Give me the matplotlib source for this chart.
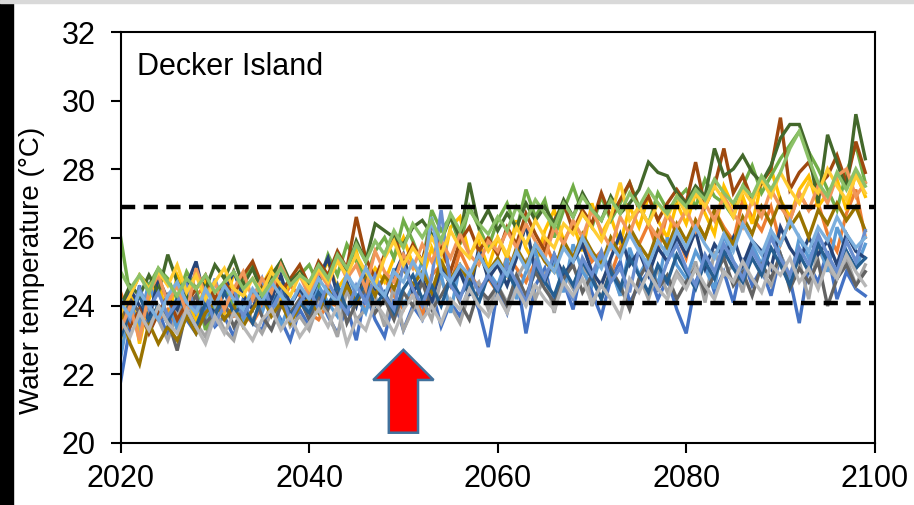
import matplotlib.pyplot as plt
from matplotlib.patches import Rectangle, FancyArrow

plt.rcParams['font.family'] = ['Liberation Sans', 'DejaVu Sans']

years = list(range(2020, 2100))

# yearly water temperature (degC), one list per model run
blue = [21.8, 23.4, 24.6, 23.2, 23.9, 23.1, 24.3, 23.6, 23.2, 24.0, 23.4, 23.7, 23.1, 24.2, 23.5, 23.3, 24.1, 23.6, 23.0, 23.9,
        23.4, 24.3, 23.7, 23.2, 24.0, 23.0, 24.4, 23.6, 23.1, 24.2, 23.3, 24.0, 23.6, 24.5, 23.4, 24.1, 23.7, 24.6, 23.9, 22.8,
        24.5, 23.8, 24.9, 23.2, 24.6, 25.1, 24.0, 24.7, 23.9, 25.2, 24.4, 23.7, 24.8, 25.3, 24.1, 24.6, 25.0, 24.2, 24.8, 23.9,
        23.2, 24.7, 25.3, 24.4, 25.0, 24.1, 25.4, 24.6, 25.1, 24.3, 25.5, 24.8, 23.5, 25.2, 24.7, 25.6, 24.2, 25.0, 24.5, 24.3]
orange = [24.4, 23.6, 23.5, 23.8, 23.6, 23.9, 23.4, 24.0, 24.3, 24.6, 24.2, 24.0, 23.7, 23.8, 23.5, 24.0, 24.4, 24.1, 24.6, 24.3,
          23.8, 23.6, 24.1, 24.0, 24.5, 24.2, 23.9, 24.4, 24.8, 24.3, 23.9, 24.6, 23.7, 24.9, 25.2, 24.6, 25.6, 25.0, 24.5, 24.8,
          24.4, 25.5, 25.1, 24.7, 25.3, 25.9, 25.2, 24.8, 25.4, 26.0, 25.3, 25.6, 24.9, 25.7, 26.2, 25.8, 26.4, 25.6, 26.7, 26.1,
          25.4, 26.5, 26.0, 26.8, 26.3, 25.9, 27.1, 26.6, 26.2, 26.9, 25.8, 26.5, 27.3, 26.8, 27.0, 26.1, 25.6, 26.7, 27.4, 26.0]
gray = [23.4, 23.9, 23.3, 24.1, 23.6, 23.0, 23.8, 24.2, 23.5, 23.1, 23.9, 23.3, 23.0, 24.0, 23.6, 23.2, 23.8, 24.3, 23.4, 23.7,
        23.3, 24.1, 23.8, 23.1, 24.5, 23.6, 23.9, 24.3, 23.4, 24.6, 23.3, 23.9, 24.2, 23.6, 24.8, 24.0, 23.5, 24.4, 24.7, 23.9,
        24.6, 24.1, 24.8, 25.3, 24.2, 24.9, 23.8, 25.0, 24.5, 25.4, 24.0, 24.7, 25.2, 24.3, 25.5, 24.9, 24.2, 25.1, 24.4, 25.0,
        24.6, 25.3, 24.1, 25.6, 24.9, 25.2, 24.4, 25.8, 25.0, 24.6, 25.5, 24.9, 25.3, 24.2, 25.7, 25.1, 24.8, 25.4, 24.6, 25.2]
gold = [23.0, 24.6, 22.9, 24.2, 24.8, 23.5, 24.9, 24.3, 23.6, 24.7, 24.1, 23.8, 25.0, 24.4, 23.9, 24.6, 25.1, 24.2, 24.7, 25.0,
        24.3, 24.8, 25.3, 24.5, 24.9, 25.6, 24.6, 25.1, 24.7, 25.4, 26.0, 25.2, 24.8, 25.7, 25.0, 26.3, 26.6, 25.5, 25.9, 25.1,
        26.0, 25.4, 26.5, 25.7, 25.2, 26.2, 26.8, 25.9, 26.4, 25.6, 27.0, 26.1, 26.6, 25.8, 26.9, 26.3, 27.2, 26.5, 26.0, 27.0,
        26.4, 27.3, 26.7, 26.1, 27.5, 26.9, 27.2, 26.4, 27.6, 28.0, 27.1, 26.6, 27.4, 27.8, 26.9, 27.3, 27.7, 26.8, 27.9, 27.2]
light_blue = [22.5, 24.0, 23.5, 24.7, 23.8, 24.3, 23.3, 24.5, 24.0, 23.6, 24.8, 23.9, 24.2, 23.5, 24.4, 23.8, 24.6, 23.4, 24.1, 24.5,
              23.9, 24.6, 24.1, 23.7, 25.0, 24.3, 23.8, 24.7, 24.2, 25.1, 24.0, 24.6, 25.3, 24.4, 24.9, 23.8, 25.2, 24.5, 24.1, 25.0,
              24.6, 25.4, 24.2, 25.0, 25.6, 24.7, 25.3, 24.4, 25.8, 25.0, 24.6, 25.5, 25.1, 24.3, 25.7, 24.9, 25.4, 24.6, 26.0, 25.2,
              24.8, 25.6, 25.1, 24.5, 26.1, 25.3, 24.9, 25.8, 25.2, 26.2, 25.5, 24.7, 26.0, 25.4, 25.9, 25.0, 26.3, 25.6, 25.1, 25.8]
green = [26.0, 24.3, 24.9, 24.6, 25.1, 24.8, 24.2, 25.0, 24.5, 23.3, 24.1, 24.6, 23.9, 24.7, 25.2, 24.4, 24.8, 25.3, 24.6, 24.9,
         25.2, 24.6, 25.5, 24.9, 25.8, 25.3, 24.8, 25.6, 26.0, 25.4, 26.5, 25.9, 25.2, 26.8, 26.2, 26.6, 25.8, 26.9, 26.3, 25.7,
         26.5, 27.0, 26.2, 27.4, 26.6, 27.1, 26.0, 26.8, 27.5, 26.7, 26.3, 27.2, 26.5, 27.0, 27.6, 26.9, 26.4, 27.3, 26.8, 27.1,
         27.4, 26.9, 27.7, 27.2, 27.0, 26.6, 27.5, 28.1, 27.3, 27.8, 28.3, 28.7, 29.1, 28.5, 28.0, 27.4, 26.8, 27.9, 28.7, 27.6]
dark_blue = [23.7, 24.5, 24.0, 23.6, 24.8, 24.2, 23.9, 24.6, 25.3, 24.1, 23.8, 24.4, 25.0, 24.3, 23.9, 24.7, 24.2, 24.9, 24.0, 24.5,
             24.1, 24.8, 25.4, 24.3, 24.7, 24.0, 25.1, 24.5, 24.2, 24.9, 25.5, 24.4, 24.8, 24.1, 25.2, 24.6, 25.0, 24.3, 25.7, 24.8,
             25.2, 24.6, 25.4, 26.4, 25.0, 24.7, 25.5, 24.9, 25.3, 25.8, 25.0, 24.6, 25.4, 26.1, 25.2, 25.6, 24.9, 25.7, 25.3, 26.0,
             25.5, 26.2, 25.1, 25.8, 25.4, 26.0, 25.2, 25.9, 25.6, 25.1, 26.3, 25.7, 25.3, 26.0, 25.5, 25.9, 25.2, 26.1, 25.6, 25.4]
brown = [24.0, 23.4, 23.9, 23.2, 23.8, 24.3, 23.6, 24.1, 24.5, 24.9, 24.2, 24.7, 24.3, 24.9, 25.3, 24.6, 25.0, 24.4, 24.8, 25.2,
         24.6, 25.3, 24.9, 25.6, 25.1, 26.6, 25.4, 24.8, 25.5, 26.1, 25.2, 25.8, 25.3, 26.4, 25.7, 25.0, 25.9, 26.3, 25.6, 26.0,
         25.5, 26.3, 25.8, 26.7, 26.1, 25.6, 26.5, 27.0, 26.2, 26.8, 26.4, 27.3, 26.6, 27.1, 27.6, 26.8, 27.2, 26.5, 27.0, 27.4,
         27.0, 28.2, 26.9, 27.5, 28.6, 27.3, 27.8, 27.1, 27.6, 28.0, 29.5, 27.4, 27.9, 28.2, 27.5, 27.8, 28.4, 27.6, 28.8, 27.9]
dark_gray = [23.5, 24.2, 23.8, 23.3, 24.0, 23.6, 22.7, 23.9, 24.3, 23.5, 23.8, 24.1, 23.4, 23.9, 24.4, 23.7, 23.3, 24.0, 23.8, 24.2,
             23.6, 24.3, 23.9, 24.6, 23.5, 24.1, 24.5, 23.8, 24.2, 23.6, 24.4, 24.0, 24.7, 23.9, 24.3, 24.8, 24.1, 23.6, 24.5, 24.2,
             24.6, 24.0, 24.9, 24.3, 25.0, 24.5, 24.1, 24.8, 25.2, 24.4, 24.9, 24.2, 25.1, 24.6, 23.9, 24.8, 25.3, 24.5, 24.9, 24.2,
             24.7, 25.1, 24.4, 24.9, 25.4, 24.6, 25.0, 24.3, 25.2, 24.8, 25.5, 24.5, 25.1, 24.7, 25.3, 24.0, 24.8, 25.2, 24.6, 25.0]
olive = [23.9, 22.9, 22.3, 23.5, 22.9, 23.4, 23.0, 23.7, 23.2, 23.8, 24.1, 23.6, 24.0, 23.4, 23.9, 24.3, 23.7, 24.1, 23.5, 24.0,
         24.2, 23.8, 24.5, 24.0, 24.6, 24.1, 24.8, 24.3, 24.9, 24.5, 25.1, 24.6, 25.0, 24.4, 25.3, 24.8, 25.2, 24.7, 25.5, 25.0,
         25.4, 24.9, 25.7, 25.2, 25.8, 25.3, 25.0, 25.9, 25.4, 26.1, 25.6, 25.2, 26.0, 25.5, 26.3, 25.8, 25.4, 26.2, 25.7, 26.4,
         25.9, 26.5, 26.0, 26.8, 26.2, 25.8, 26.6, 26.1, 26.9, 26.4, 27.1, 26.3, 26.7, 26.0, 26.8, 26.4, 27.0, 26.5, 26.9, 26.2]
steel_blue = [23.1, 23.8, 24.3, 23.6, 24.0, 23.5, 24.2, 23.9, 23.4, 24.1, 23.7, 24.4, 23.8, 24.0, 23.5, 24.3, 23.9, 24.6, 23.7, 24.1,
              23.8, 24.4, 24.0, 24.6, 23.9, 24.2, 24.7, 24.0, 24.4, 23.8, 24.5, 24.9, 24.2, 24.6, 24.0, 24.8, 24.3, 24.7, 24.1, 24.9,
              24.4, 25.0, 24.5, 24.1, 25.2, 24.7, 24.3, 25.1, 24.6, 25.3, 24.8, 24.2, 25.0, 24.5, 25.4, 24.9, 24.4, 25.2, 24.7, 25.5,
              25.0, 24.5, 25.3, 24.8, 25.6, 25.1, 24.7, 25.4, 24.9, 25.7, 25.2, 24.6, 25.5, 25.0, 25.8, 25.3, 24.9, 25.6, 25.1, 25.4]
dark_green = [24.0, 24.6, 24.3, 24.9, 24.4, 25.5, 24.7, 24.2, 25.0, 24.5, 25.2, 24.8, 25.4, 24.6, 25.1, 24.4, 24.9, 25.3, 24.7, 25.0,
              24.6, 25.2, 24.8, 25.5, 25.0, 25.9, 25.3, 26.4, 26.2, 26.0, 25.8, 26.3, 26.5, 26.1, 25.9, 26.6, 26.0, 27.6, 26.3, 26.8,
              26.2, 26.7, 26.3, 27.0, 26.5, 26.9, 26.4, 27.1, 26.6, 27.3, 26.8, 26.5, 27.2, 26.7, 27.0, 27.4, 28.2, 27.9, 27.8, 27.3,
              27.0, 27.5, 27.2, 28.6, 27.8, 28.0, 28.4, 27.9, 27.6, 28.1, 28.9, 29.3, 29.3, 28.5, 27.0, 29.0, 28.2, 27.4, 29.6, 28.3]
light_blue2 = [24.2, 23.6, 24.5, 23.9, 24.4, 23.7, 24.1, 24.6, 23.8, 24.3, 23.5, 24.0, 24.5, 23.7, 24.2, 24.8, 23.9, 24.4, 23.6, 24.1,
               24.5, 23.9, 24.7, 24.2, 23.8, 24.6, 24.1, 24.9, 24.3, 23.9, 25.2, 24.5, 24.0, 24.8, 26.8, 24.6, 24.2, 25.0, 24.4, 24.9,
               24.5, 25.2, 24.7, 24.1, 25.3, 24.8, 25.5, 24.6, 24.2, 25.4, 24.9, 25.6, 24.7, 25.1, 24.4, 25.7, 25.0, 24.5, 25.3, 25.8,
               25.1, 24.6, 25.5, 25.0, 25.8, 25.3, 24.8, 25.6, 25.1, 26.0, 25.4, 24.9, 25.7, 25.2, 26.1, 25.5, 25.0, 25.9, 25.3, 26.2]
light_orange = [23.3, 24.0, 23.0, 24.4, 24.9, 24.1, 24.6, 23.8, 25.1, 24.3, 24.7, 23.9, 24.5, 25.0, 24.2, 24.8, 24.4, 25.2, 24.6, 24.9,
                24.3, 25.0, 24.6, 25.4, 24.8, 25.2, 24.5, 25.6, 25.0, 24.7, 25.5, 25.1, 25.8, 25.3, 25.9, 25.4, 26.1, 25.5, 25.2, 25.9,
                25.6, 26.2, 25.7, 26.4, 25.9, 25.4, 26.3, 25.8, 26.5, 26.0, 26.8, 26.2, 25.7, 26.6, 26.1, 26.9, 26.4, 26.0, 26.7, 26.3,
                26.8, 26.2, 27.0, 26.5, 27.2, 26.7, 26.3, 27.1, 26.6, 27.4, 26.9, 26.5, 27.3, 26.8, 27.5, 27.0, 27.8, 28.0, 27.2, 27.6]
light_gray = [23.6, 23.1, 23.8, 23.3, 24.0, 23.5, 23.2, 23.9, 23.4, 22.9, 23.7, 23.2, 23.8, 23.4, 23.0, 23.6, 23.9, 23.3, 23.7, 23.1,
              23.5, 23.9, 23.4, 24.0, 22.9, 23.6, 23.3, 24.1, 23.7, 23.2, 23.9, 24.3, 23.6, 24.0, 23.5, 24.2, 23.9, 24.5, 24.0, 23.7,
              24.3, 23.8, 24.5, 24.0, 24.6, 24.2, 23.9, 24.7, 24.3, 24.8, 24.1, 24.6, 24.2, 23.7, 24.8, 24.4, 25.0, 24.5, 24.2, 24.9,
              24.5, 25.1, 24.6, 24.2, 25.0, 24.7, 25.3, 24.8, 24.4, 25.2, 24.9, 25.4, 24.7, 25.1, 24.5, 25.3, 24.8, 25.5, 25.0, 24.6]
light_gold = [23.8, 24.3, 24.9, 24.5, 25.0, 24.6, 25.2, 24.4, 24.9, 24.2, 24.7, 25.1, 24.5, 24.3, 24.8, 24.4, 25.0, 24.6, 24.3, 24.9,
              24.5, 25.1, 24.7, 25.3, 24.9, 25.5, 25.0, 24.6, 25.4, 25.9, 25.2, 25.7, 25.3, 26.0, 25.5, 26.2, 25.7, 25.4, 26.1, 25.6,
              26.0, 25.5, 26.3, 25.8, 26.5, 26.0, 25.7, 26.4, 26.1, 26.7, 26.3, 25.9, 26.6, 27.6, 26.5, 26.9, 26.4, 27.0, 26.6, 27.2,
              26.7, 27.3, 26.9, 27.5, 27.1, 26.6, 27.4, 27.0, 27.7, 27.2, 27.9, 27.4, 27.0, 27.6, 27.3, 28.0, 27.5, 27.1, 27.8, 27.3]
sky = [24.1, 23.7, 24.4, 24.0, 23.6, 24.3, 24.7, 24.1, 23.8, 24.5, 24.0, 24.6, 24.2, 23.9, 24.5, 24.1, 24.7, 24.3, 24.0, 24.6,
       24.2, 24.8, 24.4, 24.1, 24.9, 24.5, 25.1, 24.6, 24.3, 25.0, 24.7, 25.3, 24.8, 26.6, 25.0, 24.7, 25.2, 24.9, 25.5, 25.0,
       25.3, 24.9, 25.6, 25.1, 25.8, 25.4, 25.0, 25.7, 25.3, 26.0, 25.5, 25.1, 25.8, 25.4, 26.1, 25.6, 25.2, 25.9, 25.5, 26.2,
       25.7, 26.3, 25.8, 25.4, 26.1, 25.6, 26.4, 25.9, 25.5, 26.2, 25.8, 26.5, 26.0, 25.6, 26.3, 25.9, 26.6, 26.1, 25.7, 26.0]
light_green = [25.0, 24.5, 24.9, 24.4, 25.1, 24.7, 24.3, 24.8, 24.5, 24.9, 24.4, 24.7, 25.0, 24.5, 24.8, 24.3, 24.7, 25.1, 24.6, 24.9,
               24.7, 25.2, 24.8, 25.5, 25.1, 25.8, 25.3, 25.9, 25.5, 26.2, 25.7, 26.4, 26.0, 26.5, 25.9, 26.7, 26.2, 26.8, 26.4, 26.1,
               26.6, 26.2, 26.9, 26.5, 27.1, 26.7, 26.3, 27.0, 26.6, 27.2, 26.8, 26.5, 27.1, 26.7, 27.3, 26.9, 27.4, 27.0, 26.7, 27.2,
               26.9, 27.4, 27.1, 27.7, 27.3, 27.0, 27.5, 27.2, 27.8, 27.4, 27.9, 28.6, 29.1, 28.3, 27.6, 27.2, 27.9, 27.4, 28.0, 27.5]

runs = [blue, orange, gray, gold, light_blue, green, dark_blue, brown, dark_gray, olive,
        steel_blue, dark_green, light_blue2, light_orange, light_gray, light_gold, sky, light_green]
run_colors = ['#4472C4', '#ED7D31', '#A5A5A5', '#FFC000', '#5B9BD5', '#70AD47', '#264478', '#9E480E', '#636363', '#997300',
              '#255E91', '#43682B', '#698ED0', '#F1975A', '#B7B7B7', '#FFCD33', '#7CAFDD', '#8CC168']

thresholds = [24.1, 26.9]
station = 'Decker Island'
arrow_year = 2050

fig = plt.figure(figsize=(9.14, 5.05), dpi=100)
ax = fig.add_axes([0.132, 0.1228, 0.825, 0.8138])

for vals, c in zip(runs, run_colors):
    ax.plot(years, vals, color=c, lw=2.4, solid_joinstyle='miter')

for t in thresholds:
    ax.axhline(t, color='black', lw=3.2, dashes=(3.2, 1.9), zorder=5)

ax.add_patch(FancyArrow(arrow_year, 20.3, 0, 2.42, width=3.1, head_width=6.4, head_length=0.88,
                        length_includes_head=True, facecolor='#FF0000', edgecolor='#41719C', lw=1.8, zorder=6))

ax.set_xlim(2020, 2100)
ax.set_ylim(20, 32)
ax.set_xticks(range(2020, 2101, 20))
ax.set_yticks(range(20, 33, 2))
ax.tick_params(axis='both', direction='out', length=7, width=1.5, labelsize=22)
ax.tick_params(axis='y', pad=11)
ax.tick_params(axis='x', pad=8)
for s in ax.spines.values():
    s.set_linewidth(1.5)
    s.set_zorder(7)

ax.set_ylabel('Water temperature (°C)', fontsize=20)
ax.yaxis.set_label_coords(-0.1, 0.42)
ax.text(0.022, 0.915, station, transform=ax.transAxes, fontsize=22, ha='left', va='center')

# slide frame: black strip on the left, grey rule on top
fig.patches.append(Rectangle((0, 0), 13 / 914, 1, transform=fig.transFigure, color='black', zorder=0))
fig.patches.append(Rectangle((0, 1 - 3 / 505), 1, 3 / 505, transform=fig.transFigure, color='#D9D9D9', zorder=0))

fig.savefig('out.png', dpi=100)
